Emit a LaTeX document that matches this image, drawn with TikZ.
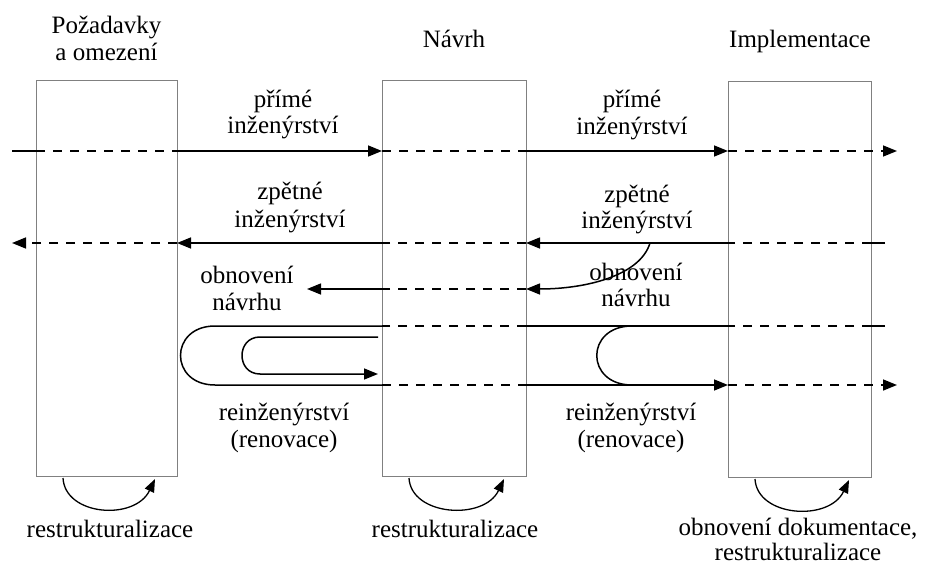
\documentclass[tikz,border=0pt]{standalone}
\usepackage{fontspec}
\setmainfont{Liberation Serif}
\usetikzlibrary{arrows.meta}
\begin{document}
\begin{tikzpicture}[x=1pt,y=-1pt,
  stage/.style={draw=black!50, line width=0.9pt, inner sep=0pt, outer sep=0pt,
                minimum height=396pt},
  flow/.style={line width=1.5pt, line cap=butt},
  hidden/.style={line width=1.5pt, dash pattern=on 9pt off 8pt},
  tip/.style={-{Triangle[length=14pt,width=11pt]}},
  turn/.style={line width=1.3pt, -{Triangle[length=13pt,width=10pt]}},
  lbl/.style={font=\fontsize{25}{27}\selectfont, inner sep=0pt, anchor=base},
]
\useasboundingbox (0,0) rectangle (944,564);

% the three stages
\node[stage, minimum width=141pt] (req) at (106.5,278) {};
\node[stage, minimum width=144pt] (des) at (454,278) {};
\node[stage, minimum width=143pt] (imp) at (799.5,279) {};

% stage titles
\node[lbl] (reqT1) at (106.5,34) {Požadavky};
\node[lbl] (reqT2) at (106.5,61) {a omezení};
\node[lbl] (desT) at (454,48) {Návrh};
\node[lbl] (impT) at (800,48) {Implementace};

% row levels
\coordinate (in1) at (12,151);
\coordinate (out1) at (897,151);
\coordinate (in2) at (885,243);
\coordinate (out2) at (12,243);
\coordinate (fork) at (650,243);
\coordinate (y3) at (0,289);
\coordinate (out3) at (307,289);
\coordinate (in4) at (885,326);
\coordinate (y5) at (0,385);
\coordinate (out5) at (897,385);

% forward engineering
\draw[flow] (in1) -- (in1 -| req.west);
\draw[hidden] (in1 -| req.west) -- (in1 -| req.east);
\draw[flow,tip] (in1 -| req.east) -- (in1 -| des.west);
\draw[hidden] (in1 -| des.west) -- (in1 -| des.east);
\draw[flow,tip] (in1 -| des.east) -- (in1 -| imp.west);
\draw[hidden,tip] (in1 -| imp.west) -- (out1);

% reverse engineering
\draw[flow] (in2) -- (in2 -| imp.east);
\draw[hidden] (in2 -| imp.east) -- (in2 -| imp.west);
\draw[flow,tip] (in2 -| imp.west) -- (in2 -| des.east);
\draw[hidden] (in2 -| des.east) -- (in2 -| des.west);
\draw[flow,tip] (in2 -| des.west) -- (in2 -| req.east);
\draw[hidden,tip] (in2 -| req.east) -- (out2);

% design recovery
\draw[flow,tip] (fork) .. controls (640,276) and (585,289) .. (des.east |- y3);
\draw[hidden] (des.east |- y3) -- (des.west |- y3);
\draw[flow,tip] (des.west |- y3) -- (out3);

% re-engineering
\draw[flow] (in4) -- (in4 -| imp.east);
\draw[hidden] (in4 -| imp.east) -- (in4 -| imp.west);
\draw[flow] (in4 -| imp.west) -- (in4 -| des.east);
\draw[flow] (632,326) .. controls (585,326) and (585,385) .. (632,385);
\draw[hidden] (in4 -| des.east) -- (in4 -| des.west);
\draw[flow] (in4 -| des.west) -- (215,326)
  .. controls (169,326) and (169,385) .. (215,385) -- (des.west |- y5);
\draw[flow,tip] (378,337) -- (260,337)
  .. controls (236,337) and (236,374) .. (260,374) -- (378,374);
\draw[hidden] (des.west |- y5) -- (des.east |- y5);
\draw[flow,tip] (des.east |- y5) -- (imp.west |- y5);
\draw[hidden,tip] (imp.west |- y5) -- (out5);

% restructuring loops below each stage
\foreach \s in {req,des,imp}
  \draw[turn] ([xshift=27pt,yshift=-2pt]\s.south west)
    .. controls +(2,38) and +(-20,42) .. ([xshift=-22pt,yshift=-3pt]\s.south east);

% connector labels
\node[lbl] (fwdA1) at (283,108) {přímé};
\node[lbl] (fwdA2) at (283,134) {inženýrství};
\node[lbl] (fwdB1) at (632,108) {přímé};
\node[lbl] (fwdB2) at (632,135) {inženýrství};
\node[lbl] (revA1) at (290,200) {zpětné};
\node[lbl] (revA2) at (290,227) {inženýrství};
\node[lbl] (revB1) at (637,202) {zpětné};
\node[lbl] (revB2) at (637,228) {inženýrství};
\node[lbl] (recA1) at (247,283) {obnovení};
\node[lbl] (recA2) at (247,310) {návrhu};
\node[lbl] (recB1) at (636,280) {obnovení};
\node[lbl] (recB2) at (636,306) {návrhu};
\node[lbl] (reA1) at (284,420) {reinženýrství};
\node[lbl] (reA2) at (284,447) {(renovace)};
\node[lbl] (reB1) at (631,420) {reinženýrství};
\node[lbl] (reB2) at (631,447) {(renovace)};

% loop labels
\node[lbl] (rsA) at (110,537) {restrukturalizace};
\node[lbl] (rsB) at (455,537) {restrukturalizace};
\node[lbl] (rsC1) at (798,535) {obnovení dokumentace,};
\node[lbl] (rsC2) at (798,560) {restrukturalizace};
\end{tikzpicture}
\end{document}
